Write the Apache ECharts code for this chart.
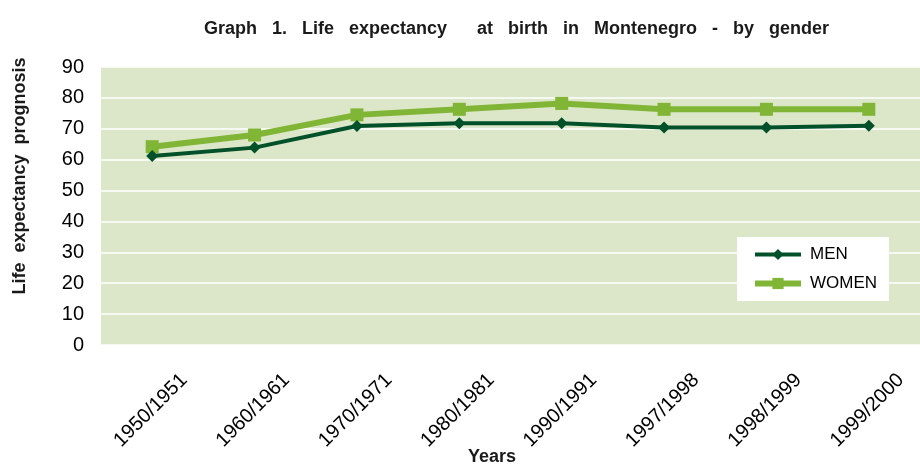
<!DOCTYPE html>
<html>
<head>
<meta charset="utf-8">
<script src="https://cdn.jsdelivr.net/npm/echarts@6/dist/echarts.min.js"></script>
<style>
  html, body { margin: 0; padding: 0; background: #fff; }
  #echarts_main { width: 920px; height: 464px; }
</style>
</head>
<body>
<div id="echarts_main"></div>
<script>
const years = ['1950/1951', '1960/1961', '1970/1971', '1980/1981', '1990/1991', '1997/1998', '1998/1999', '1999/2000']
const men = [61.2, 63.9, 70.9, 71.8, 71.8, 70.4, 70.4, 71.0]
const women = [64.2, 68.0, 74.5, 76.3, 78.2, 76.3, 76.3, 76.3]
const yTicks = [0, 90, 10]  // min, max, interval

const chart = echarts.init(document.getElementById('echarts_main'))
const font = 'Liberation Sans, Arial, sans-serif'

const option = {
    animation: false,
    textStyle: { fontFamily: font },
    title: {
        text: 'Graph   1.   Life   expectancy      at   birth   in   Montenegro   -   by   gender',
        left: 199,
        top: 15,
        textStyle: { fontSize: 18, fontWeight: 'bold', color: '#1a1a1a', fontFamily: font }
    },
    graphic: [
        {
            type: 'text',
            x: 20, y: 176,
            rotation: Math.PI / 2,
            style: {
                text: 'Life  expectancy  prognosis',
                font: 'bold 18px ' + font,
                fill: '#1a1a1a',
                align: 'center',
                verticalAlign: 'middle'
            }
        },
        {
            type: 'text',
            x: 492, y: 457,
            style: {
                text: 'Years',
                font: 'bold 18px ' + font,
                fill: '#1a1a1a',
                align: 'center',
                verticalAlign: 'middle'
            }
        }
    ],
    grid: {
        left: 101, top: 67, right: -17, bottom: 119,
        show: true,
        backgroundColor: '#dce6c8',
        borderWidth: 0
    },
    legend: {
        orient: 'vertical',
        left: 737, top: 237,
        backgroundColor: '#fff',
        padding: [9, 12, 9, 15],
        itemWidth: 46,
        itemHeight: 14,
        itemGap: 12,
        data: [
            { name: 'MEN', lineStyle: { width: 4 } },
            { name: 'WOMEN', lineStyle: { width: 6 } }
        ],
        textStyle: { fontSize: 17, color: '#000', padding: [0, 0, 0, 4], fontFamily: font }
    },
    xAxis: {
        type: 'category',
        data: years,
        axisLine: { show: false },
        axisTick: { show: false },
        axisLabel: {
            rotate: 45,
            align: 'center',
            verticalAlign: 'middle',
            margin: 64,
            fontSize: 20,
            color: '#000',
            interval: 0,
            padding: [0, 4, 0, 0]
        }
    },
    yAxis: {
        type: 'value',
        min: yTicks[0],
        max: yTicks[1],
        interval: yTicks[2],
        axisLine: { show: false },
        axisTick: { show: false },
        axisLabel: { fontSize: 20, color: '#000', margin: 17 },
        splitLine: { lineStyle: { color: '#fff', width: 1.5 } }
    },
    series: [
        {
            name: 'MEN',
            type: 'line',
            data: men,
            symbol: 'diamond',
            symbolSize: 12,
            lineStyle: { color: '#00502a', width: 4 },
            itemStyle: { color: '#00502a' },
            z: 3
        },
        {
            name: 'WOMEN',
            type: 'line',
            data: women,
            symbol: 'rect',
            symbolSize: 13,
            lineStyle: { color: '#80b535', width: 6 },
            itemStyle: { color: '#80b535' },
            z: 2
        }
    ]
}

chart.setOption(option)
</script>
</body>
</html>
